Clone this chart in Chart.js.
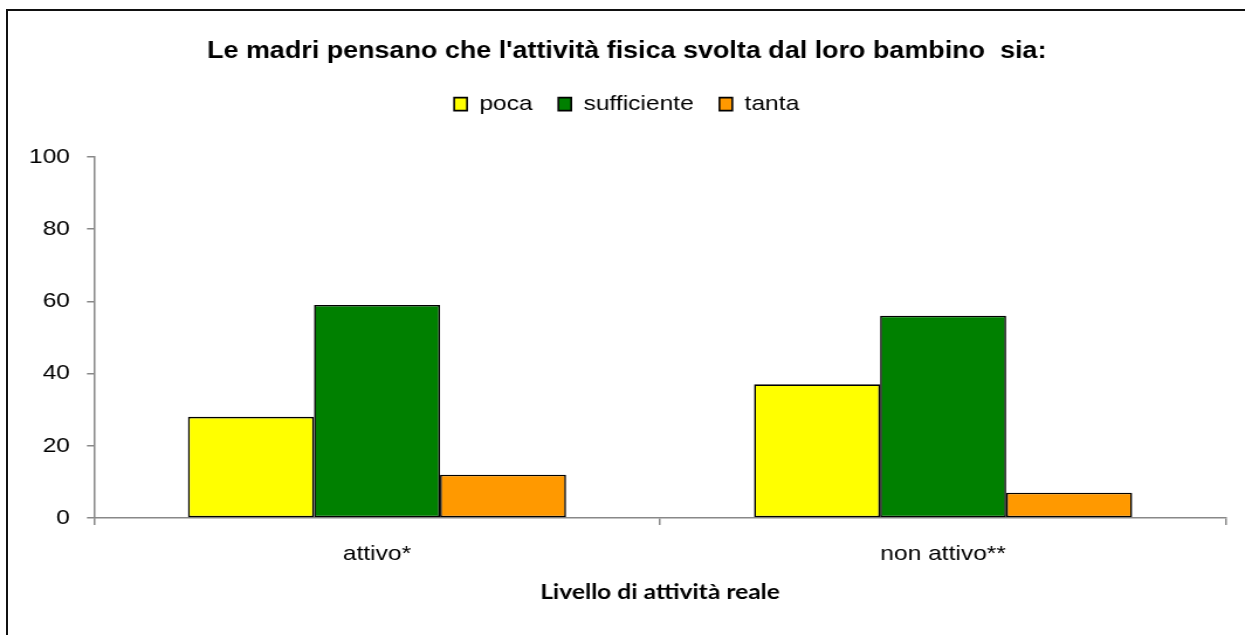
<!DOCTYPE html>
<html>
<head>
<meta charset="utf-8">
<script src="https://cdn.jsdelivr.net/npm/chart.js@4"></script>
<style>
  html, body { margin: 0; padding: 0; background: #fff; overflow: hidden; }
  #wrap { position: absolute; left: 0; top: 0; width: 1245px; height: 635px; overflow: hidden; }
  #c { position: absolute; left: 0; top: 0; transform-origin: 0 0; transform: scaleX(1.1701); }
  #frame { position: absolute; left: 6px; top: 9px; width: 1300px; height: 700px; border-top: 2px solid #111; border-left: 2px solid #111; box-sizing: border-box; pointer-events: none; }
</style>
</head>
<body>
<div id="wrap"><canvas id="c" width="1064" height="635"></canvas><div id="frame"></div></div>
<script>
const categories = ['attivo*', 'non attivo**'];
const seriesNames = ['poca', 'sufficiente', 'tanta'];
const poca = [28, 37];
const sufficiente = [59, 56];
const tanta = [12, 7];
const yTicks = [0, 20, 40, 60, 80, 100];
const titleText = "Le madri pensano che l'attività fisica svolta dal loro bambino  sia:";
const xTitle = 'Livello di attività reale';

const colors = ['#FFFF00', '#008000', '#FF9900'];
const values = [poca, sufficiente, tanta];
const sans = 'Liberation Sans, Arial, sans-serif';

new Chart(document.getElementById('c'), {
  type: 'bar',
  data: {
    labels: categories,
    datasets: seriesNames.map((n, i) => ({
      label: n,
      data: values[i],
      backgroundColor: colors[i],
      borderColor: '#000',
      borderWidth: 1.6,
      borderSkipped: false,
      categoryPercentage: 0.668,
      barPercentage: 1.0
    }))
  },
  options: {
    responsive: false,
    animation: false,
    devicePixelRatio: 1,
    layout: { padding: { left: 23.3, right: 16.1, top: 0, bottom: 0 } },
    plugins: {
      tooltip: { enabled: false },
      title: {
        display: true,
        text: titleText,
        color: '#000',
        font: { family: sans, size: 23, weight: 'bold' },
        padding: { top: 38, bottom: 6 }
      },
      subtitle: {
        display: true,
        text: ' ',
        weight: 500,
        font: { size: 1 },
        padding: { top: 31, bottom: 0 }
      },
      legend: {
        display: true,
        position: 'top',
        labels: {
          color: '#000',
          boxWidth: 11,
          boxHeight: 13,
          padding: 22,
          font: { family: sans, size: 21 }
        }
      }
    },
    scales: {
      x: {
        offset: true,
        afterFit: (s) => { s.height = 117; },
        grid: { display: true, offset: true, drawOnChartArea: false, drawTicks: true, tickLength: 7, color: '#888', lineWidth: 1.5 },
        border: { display: true, color: '#888', width: 1.5 },
        ticks: { color: '#000', padding: 17, font: { family: sans, size: 21 } },
        title: {
          display: true,
          text: xTitle,
          color: '#000',
          font: { family: 'Lato, Open Sans, sans-serif', size: 21, weight: 'bold' },
          padding: { top: 4, bottom: 30 }
        }
      },
      y: {
        min: 0,
        max: 100,
        afterBuildTicks: (s) => { s.ticks = yTicks.map(v => ({ value: v })); },
        afterFit: (s) => { s.width = 57; },
        grid: { display: true, drawOnChartArea: false, drawTicks: true, tickLength: 6, color: '#888', lineWidth: 1.5 },
        border: { display: true, color: '#888', width: 1.5 },
        ticks: { color: '#000', padding: 14.5, font: { family: sans, size: 21 } }
      }
    }
  }
});
</script>
</body>
</html>
